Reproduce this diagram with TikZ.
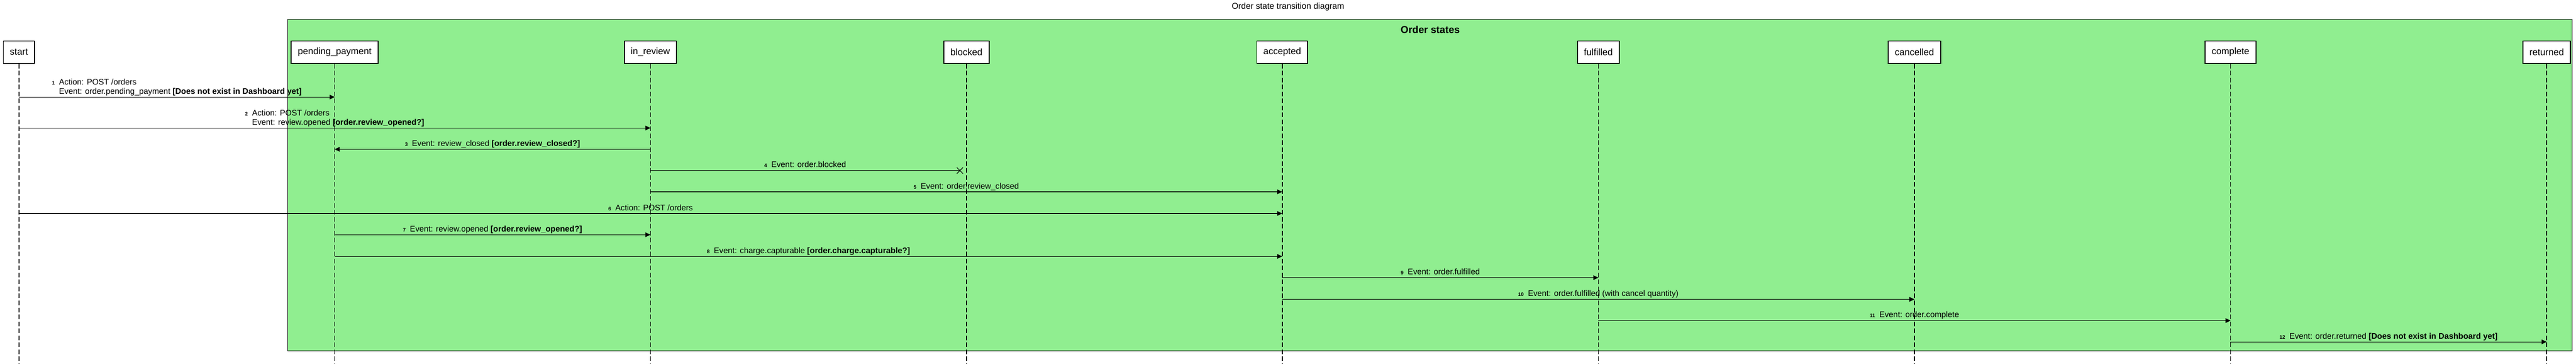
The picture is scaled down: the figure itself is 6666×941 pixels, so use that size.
\documentclass[tikz,border=0pt]{standalone}
\usepackage{fontspec}
\setmainfont{Liberation Sans}
\usepackage{tikz}
\usetikzlibrary{arrows.meta, positioning, calc}

\definecolor{stategreen}{HTML}{90EE90}

\newcommand{\nr}[1]{{\fontsize{13}{15}\selectfont\bfseries #1}\hspace{11pt}}

\tikzset{
	state/.style={draw, line width=2.5pt, fill=white, minimum height=58pt, inner xsep=17pt, font=\fontsize{24}{28}\selectfont},
	lifeline/.style={line width=2pt, dash pattern=on 12pt off 6pt},
	msg/.style={line width=1.5pt, -{Triangle[length=13pt,width=12pt]}},
	lost/.style={line width=1.5pt},
	lbl/.style={midway, anchor=base, yshift=8pt, inner sep=0pt, font=\fontsize{21}{24}\selectfont},
}

\begin{document}
\begin{tikzpicture}[x=1pt,y=-1pt]
	\useasboundingbox (0,0) rectangle (6666,941);
	
	% title and group
	\node[font=\fontsize{22}{24}\selectfont] (title) at (3333,18) {Order state transition diagram};
	\draw[fill=stategreen, line width=1.5pt] (745,50) rectangle (6656,907);
	\node[font=\fontsize{26}{30}\selectfont\bfseries] (group) at (3701,77) {Order states};
	
	% states
	\node[state] (start) at (49,135) {start};
	\node[state] (pending) at (866,135) {pending\_payment};
	\node[state] (review) at (1683,135) {in\_review};
	\node[state] (blocked) at (2501,135) {blocked};
	\node[state] (accepted) at (3318,135) {accepted};
	\node[state] (fulfilled) at (4136,135) {fulfilled};
	\node[state] (cancelled) at (4954,135) {cancelled};
	\node[state] (complete) at (5772,135) {complete};
	\node[state] (returned) at (6590,135) {returned};
	
	\foreach \p in {start,pending,review,blocked,accepted,fulfilled,cancelled,complete,returned}
		\draw[lifeline] (\p.south) -- (\p |- 0,941);
	
	% transitions
	\draw[msg] (start |- 0,251) -- node[lbl]{\begin{tabular}[b]{@{}l@{}l@{}}
			\nr{1} & Action: POST /orders \\
			& Event: order.pending\_payment \textbf{[Does not exist in Dashboard yet]}
		\end{tabular}} (pending |- 0,251);
	\draw[msg] (start |- 0,331) -- node[lbl]{\begin{tabular}[b]{@{}l@{}l@{}}
			\nr{2} & Action: POST /orders \\
			& Event: review.opened \textbf{[order.review\_opened?]}
		\end{tabular}} (review |- 0,331);
	\draw[msg] (review |- 0,386) -- node[lbl]{\nr{3}Event: review\_closed \textbf{[order.review\_closed?]}} (pending |- 0,386);
	
	\coordinate (cross) at (2484,441);
	\draw[lost] (review |- cross) -- node[lbl]{\nr{4}Event: order.blocked} (cross);
	\draw[lost] (cross) +(-8,-8) -- +(8,8) (cross) +(-8,8) -- +(8,-8);
	
	\draw[msg] (review |- 0,496) -- node[lbl]{\nr{5}Event: order.review\_closed} (accepted |- 0,496);
	\draw[msg] (start |- 0,552) -- node[lbl]{\nr{6}Action: POST /orders} (accepted |- 0,552);
	\draw[msg] (pending |- 0,607) -- node[lbl]{\nr{7}Event: review.opened \textbf{[order.review\_opened?]}} (review |- 0,607);
	\draw[msg] (pending |- 0,663) -- node[lbl]{\nr{8}Event: charge.capturable \textbf{[order.charge.capturable?]}} (accepted |- 0,663);
	\draw[msg] (accepted |- 0,718) -- node[lbl]{\nr{9}Event: order.fulfilled} (fulfilled |- 0,718);
	\draw[msg] (accepted |- 0,774) -- node[lbl]{\nr{10}Event: order.fulfilled (with cancel quantity)} (cancelled |- 0,774);
	\draw[msg] (fulfilled |- 0,829) -- node[lbl]{\nr{11}Event: order.complete} (complete |- 0,829);
	\draw[msg] (complete |- 0,884) -- node[lbl]{\nr{12}Event: order.returned \textbf{[Does not exist in Dashboard yet]}} (returned |- 0,884);
\end{tikzpicture}
\end{document}
